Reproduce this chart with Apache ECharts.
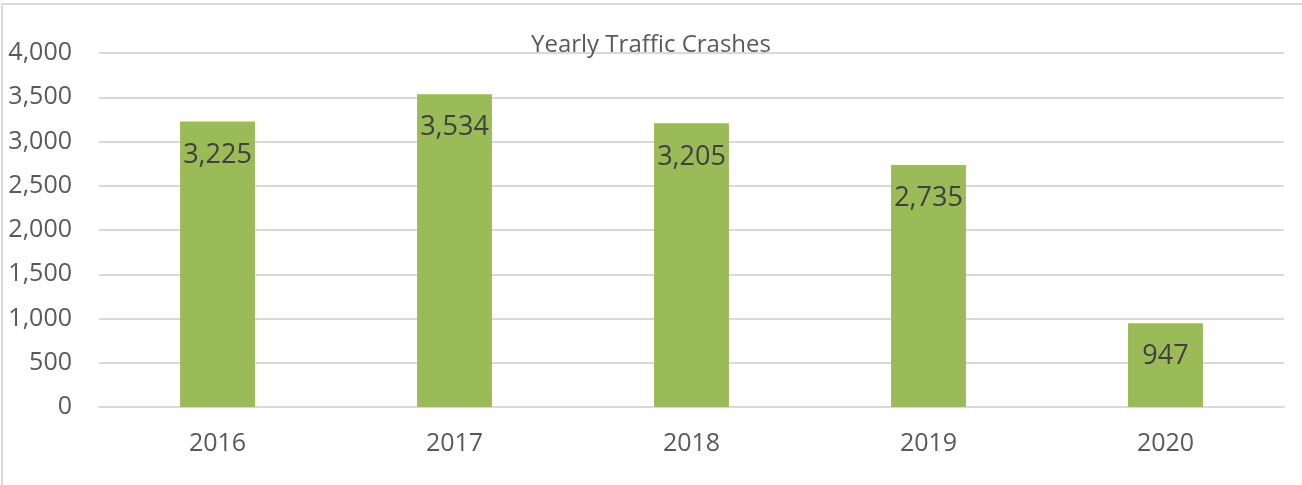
<!DOCTYPE html>
<html>
<head>
<meta charset="utf-8">
<script src="https://cdn.jsdelivr.net/npm/echarts@6/dist/echarts.min.js"></script>
<style>
  html, body { margin: 0; padding: 0; background: #fff; }
  #frame { position: absolute; left: 1px; top: 3px; width: 1301px; height: 482px;
           border-top: 2px solid #d9d9d9; border-left: 2px solid #d9d9d9; box-sizing: border-box; }
  #chart { position: absolute; left: 0; top: 0; width: 1302px; height: 485px; }
</style>
</head>
<body>
<div id="frame"></div>
<div id="chart"></div>
<script>
// data
var years = ['2016', '2017', '2018', '2019', '2020'];
var crashes = [3225, 3534, 3205, 2735, 947];

var chart = echarts.init(document.getElementById('chart'));
var fontFam = '"Open Sans", "Liberation Sans", sans-serif';

var option = {
  animation: false,
  textStyle: { fontFamily: fontFam },
  title: {
    text: 'Yearly Traffic Crashes',
    left: 'center',
    top: 28,
    textStyle: { fontSize: 24, fontWeight: 'normal', color: '#595959', fontFamily: fontFam }
  },
  grid: { left: 99, right: 18, top: 53, bottom: 78 },
  xAxis: {
    type: 'category',
    data: years,
    axisLine: { lineStyle: { color: '#d9d9d9', width: 2 } },
    axisTick: { show: false },
    axisLabel: { fontSize: 25, color: '#595959', margin: 24 }
  },
  yAxis: {
    type: 'value',
    min: 0,
    max: 4000,
    interval: 500,
    axisLine: { show: false },
    axisTick: { show: false },
    splitLine: { lineStyle: { color: '#d9d9d9', width: 2 } },
    axisLabel: {
      fontSize: 25, color: '#595959', margin: 27,
      formatter: function (v) { return v.toLocaleString('en-US'); }
    }
  },
  series: [
    {
      type: 'bar',
      data: crashes,
      barWidth: '31.6%',
      itemStyle: { color: '#9bbb59' },
      label: {
        show: true,
        position: 'insideTop',
        distance: 20,
        fontSize: 27,
        color: '#404040',
        formatter: function (p) { return p.value.toLocaleString('en-US'); }
      }
    }
  ]
};
chart.setOption(option);
</script>
</body>
</html>
